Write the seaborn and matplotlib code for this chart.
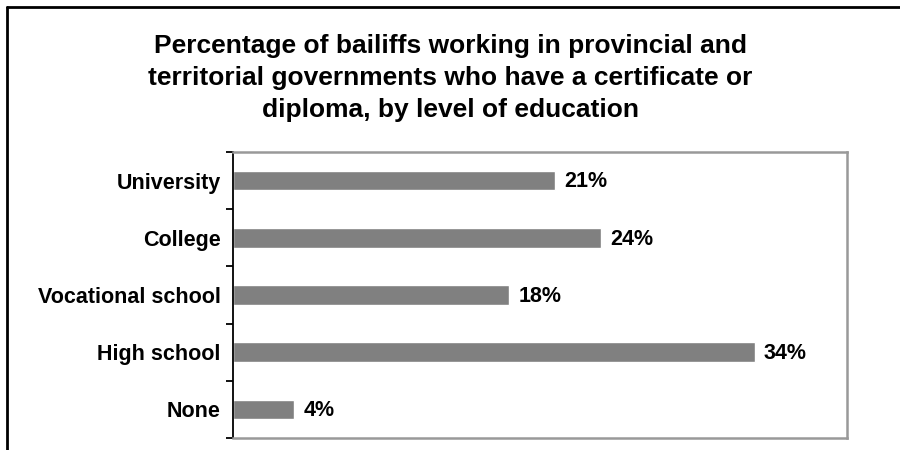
import matplotlib
matplotlib.use("Agg")
import matplotlib.pyplot as plt
import seaborn as sns
import pandas as pd
from matplotlib.lines import Line2D

categories = ["University", "College", "Vocational school", "High school", "None"]
values = [21, 24, 18, 34, 4]
value_labels = ["21%", "24%", "18%", "34%", "4%"]
title = ("Percentage of bailiffs working in provincial and\n"
         "territorial governments who have a certificate or\n"
         "diploma, by level of education")

sns.set_theme(style="white")
plt.rcParams["font.family"] = ["Liberation Sans", "DejaVu Sans"]

df = pd.DataFrame({"level": categories, "pct": values})

fig = plt.figure(figsize=(9, 4.5), dpi=100)
ax = fig.add_axes([233/900, 1-438/450, (847-233)/900, (438-152)/450])

sns.barplot(data=df, y="level", x="pct", orient="h", order=categories,
            color="#808080", saturation=1, width=0.34, ax=ax)

ax.set_xlim(0, 40)
ax.set_ylim(len(categories)-0.5, -0.5)
ax.set_xlabel("")
ax.set_ylabel("")
ax.set_xticks([])

ax.set_yticks(range(len(categories)))
ax.set_yticklabels(categories, fontsize=15.5, fontweight="bold", color="black")
ax.tick_params(axis="y", which="major", length=0, pad=9)
ax.set_yticks([i - 0.5 for i in range(len(categories)+1)], minor=True)
ax.tick_params(axis="y", which="minor", length=5, width=1.3, color="black", direction="out", left=True)

for i, (v, lab) in enumerate(zip(values, value_labels)):
    ax.annotate(lab, xy=(v, i), xytext=(6.5, -1), textcoords="offset points",
                va="center", ha="left", fontsize=15.5, fontweight="bold", color="black")

for s in ["top", "right", "bottom"]:
    ax.spines[s].set_color("#999999")
    ax.spines[s].set_linewidth(1.8)
ax.spines["left"].set_color("black")
ax.spines["left"].set_linewidth(1.3)

fig.text(0.5, 1-78/450, title, ha="center", va="center", fontsize=19,
         fontweight="bold", linespacing=1.42, color="black")

fig.add_artist(Line2D([7/900, 1.0], [1-7/450, 1-7/450], transform=fig.transFigure,
                      color="black", linewidth=2))
fig.add_artist(Line2D([7/900, 7/900], [1-7/450, 0.0], transform=fig.transFigure,
                      color="black", linewidth=2))

fig.savefig("out.png", dpi=100)
